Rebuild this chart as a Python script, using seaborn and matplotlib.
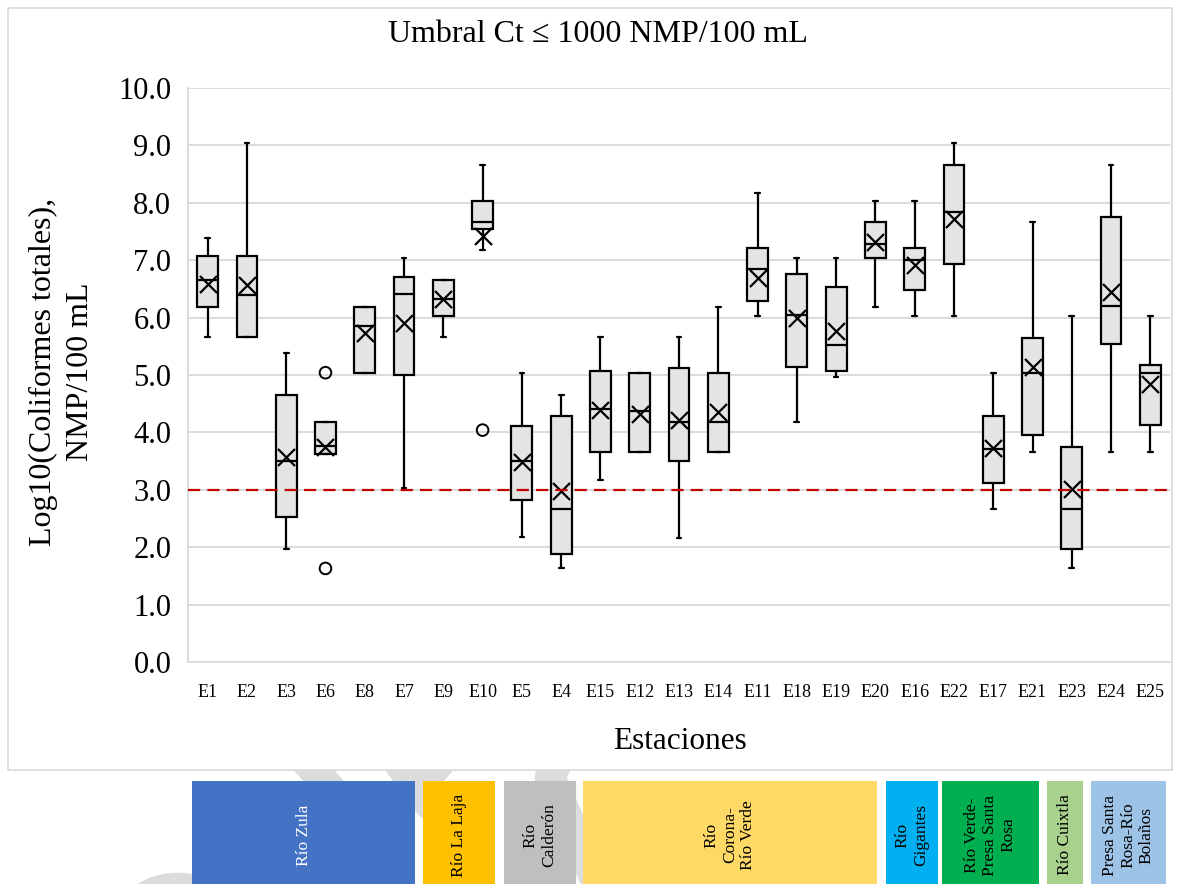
import numpy as np
import pandas as pd
import seaborn as sns
import matplotlib.pyplot as plt
from matplotlib.patches import Rectangle, Circle
from matplotlib.lines import Line2D

# estaciones en el orden del eje x
stations = ['E1', 'E2', 'E3', 'E6', 'E8', 'E7', 'E9', 'E10', 'E5', 'E4', 'E15', 'E12', 'E13',
            'E14', 'E11', 'E18', 'E19', 'E20', 'E16', 'E22', 'E17', 'E21', 'E23', 'E24', 'E25']

# estadisticos (log10 NMP/100 mL)
whis_hi = [7.38, 9.04, 5.38, 4.18, 6.18, 7.04, 6.66, 8.66, 5.03, 4.66, 5.66, 5.03, 5.66,
           6.18, 8.17, 7.04, 7.04, 8.04, 8.04, 9.04, 5.03, 7.67, 6.03, 8.66, 6.03]
q3 = [7.08, 7.08, 4.66, 4.18, 6.18, 6.71, 6.66, 8.04, 4.12, 4.29, 5.07, 5.03, 5.12,
      5.03, 7.22, 6.76, 6.54, 7.67, 7.22, 8.66, 4.29, 5.65, 3.75, 7.75, 5.17]
median = [6.66, 6.40, 3.51, 3.77, 5.85, 6.41, 6.32, 7.66, 3.51, 2.67, 4.41, 4.37, 4.18,
          4.18, 6.85, 6.04, 5.52, 7.28, 7.00, 7.84, 3.71, 5.03, 2.67, 6.21, 5.03]
q1 = [6.19, 5.66, 2.53, 3.63, 5.03, 5.00, 6.03, 7.54, 2.82, 1.88, 3.66, 3.66, 3.50,
      3.66, 6.29, 5.14, 5.07, 7.04, 6.48, 6.94, 3.11, 3.95, 1.96, 5.54, 4.13]
whis_lo = [5.66, 5.66, 1.96, 3.63, 5.03, 3.04, 5.66, 7.18, 2.17, 1.63, 3.17, 3.66, 2.16,
           3.66, 6.03, 4.18, 4.97, 6.18, 6.03, 6.03, 2.67, 3.66, 1.63, 3.66, 3.66]
mean = [6.59, 6.57, 3.57, 3.75, 5.73, 5.90, 6.33, 7.43, 3.49, 2.98, 4.39, 4.32, 4.21,
        4.35, 6.69, 6.00, 5.76, 7.31, 6.91, 7.71, 3.73, 5.14, 3.02, 6.45, 4.85]

outlier_station = ['E6', 'E6', 'E10']
outlier_value = [5.04, 1.63, 4.04]

threshold = 3.0  # log10(1000)

regions = ['Río Zula', 'Río La Laja', 'Río\nCalderón', 'Río\nCorona-\nRío Verde', 'Río\nGigantes',
           'Río Verde-\nPresa Santa\nRosa', 'Río Cuixtla', 'Presa Santa\nRosa-Río\nBolaños']
region_colors = ['#4472C4', '#FFC000', '#BFBFBF', '#FFD966', '#00B0F0', '#00B050', '#A9D18E', '#9DC3E6']
region_text = ['white', 'black', 'black', 'black', 'black', 'black', 'black', 'black']
# extension horizontal de cada caja (pixeles)
region_x = [(192, 415), (423, 495), (504, 576), (583, 877), (886, 938), (942, 1039), (1047, 1083), (1091, 1166)]

sns.set_theme(style='whitegrid')
plt.rcParams['font.family'] = ['Liberation Serif', 'DejaVu Serif']

W, H = 1177, 884
fig = plt.figure(figsize=(W / 100, H / 100), dpi=100)
fig.patch.set_facecolor('white')


def fx(x):
    return x / W


def fy(y):
    return 1 - y / H


ax = fig.add_axes([fx(188), fy(662), fx(1170) - fx(188), fy(88) - fy(662)])
ax.set_zorder(1)
ax.set_facecolor('white')

pos = np.arange(len(stations))
stats = []
for i, name in enumerate(stations):
    stats.append(dict(label=name, med=median[i], q1=q1[i], q3=q3[i],
                      whislo=whis_lo[i], whishi=whis_hi[i], fliers=[]))

ax.bxp(stats, positions=pos, widths=0.53, capwidths=0.12, patch_artist=True,
       showfliers=False, manage_ticks=False,
       boxprops=dict(facecolor='#E4E4E4', edgecolor='black', linewidth=1.6),
       medianprops=dict(color='black', linewidth=1.6),
       whiskerprops=dict(color='black', linewidth=1.6),
       capprops=dict(color='black', linewidth=1.6))

df_mean = pd.DataFrame({'pos': pos, 'media': mean})
sns.scatterplot(data=df_mean, x='pos', y='media', marker='x', color='black', s=150,
                linewidth=1.6, ax=ax, zorder=5, legend=False)

df_out = pd.DataFrame({'pos': [stations.index(s) for s in outlier_station], 'valor': outlier_value})
sns.scatterplot(data=df_out, x='pos', y='valor', marker='o', facecolor='none', edgecolor='black',
                s=70, linewidth=1.4, ax=ax, zorder=5, legend=False)

ax.axhline(threshold, color='#C00000', lw=1.6, ls=(0, (5.5, 3.2)), zorder=6)

ax.set_xlim(-0.5, len(stations) - 0.5)
ax.set_ylim(0, 10)
ax.set_yticks(np.arange(0, 10.01, 1))
ax.set_yticklabels([f'{v:.1f}' for v in np.arange(0, 10.01, 1)])
ax.set_xticks(pos)
ax.set_xticklabels(stations)
ax.tick_params(axis='y', labelsize=22, pad=12, length=0, labelcolor='black')
ax.tick_params(axis='x', labelsize=13, pad=16, length=0, labelcolor='black')
ax.xaxis.grid(False)
ax.yaxis.grid(True, color='#D9D9D9', lw=1.3)
ax.set_axisbelow(True)
for s in ['top', 'right']:
    ax.spines[s].set_visible(False)
for s in ['left', 'bottom']:
    ax.spines[s].set_color('#D9D9D9')
    ax.spines[s].set_linewidth(1.3)
ax.set_xlabel('')
ax.set_ylabel('Log10(Coliformes totales),\nNMP/100 mL', fontsize=23, color='black',
              linespacing=1.35)
ax.yaxis.set_label_coords((95 - 188) / 982, 0.505)

fig.text(fx(598), fy(42), 'Umbral Ct ≤ 1000 NMP/100 mL', ha='center', va='baseline',
         fontsize=23, color='black')
fig.text(fx(680), fy(749), 'Estaciones', ha='center', va='baseline', fontsize=22.5, color='black')

# marco exterior del grafico
fig.add_artist(Rectangle((fx(8), fy(770)), fx(1172) - fx(8), fy(8) - fy(770), transform=fig.transFigure,
                         fill=False, edgecolor='#D9D9D9', lw=1.2, zorder=1))

# marca de agua gris bajo las cajas de region
wm = '#DCDCDC'
for (xa, ya, xb, yb) in [(305, 760, 380, 845), (398, 762, 430, 805), (440, 762, 412, 795),
                         (550, 778, 600, 890), (556, 765, 550, 778)]:
    fig.add_artist(Line2D([fx(xa), fx(xb)], [fy(ya), fy(yb)], transform=fig.transFigure,
                          color=wm, lw=22, solid_capstyle='round', zorder=0.5))
fig.add_artist(Circle((fx(178), fy(920)), 62 / W, transform=fig.transFigure, color=wm, zorder=0.5))
fig.add_artist(Rectangle((0, fy(770)), 1, fy(0) - fy(770), transform=fig.transFigure,
                         facecolor='white', edgecolor='none', zorder=0.6))

for name, col, tc, (x0, x1) in zip(regions, region_colors, region_text, region_x):
    fig.add_artist(Rectangle((fx(x0), 0), fx(x1) - fx(x0), fy(781), transform=fig.transFigure,
                             facecolor=col, edgecolor='none', zorder=2))
    fig.text(fx((x0 + x1) / 2), fy(835), name, rotation=90, ha='center', va='center',
             multialignment='center', fontsize=12.5, color=tc, linespacing=1.2, zorder=3)

fig.savefig('out.png', dpi=100, facecolor='white')
